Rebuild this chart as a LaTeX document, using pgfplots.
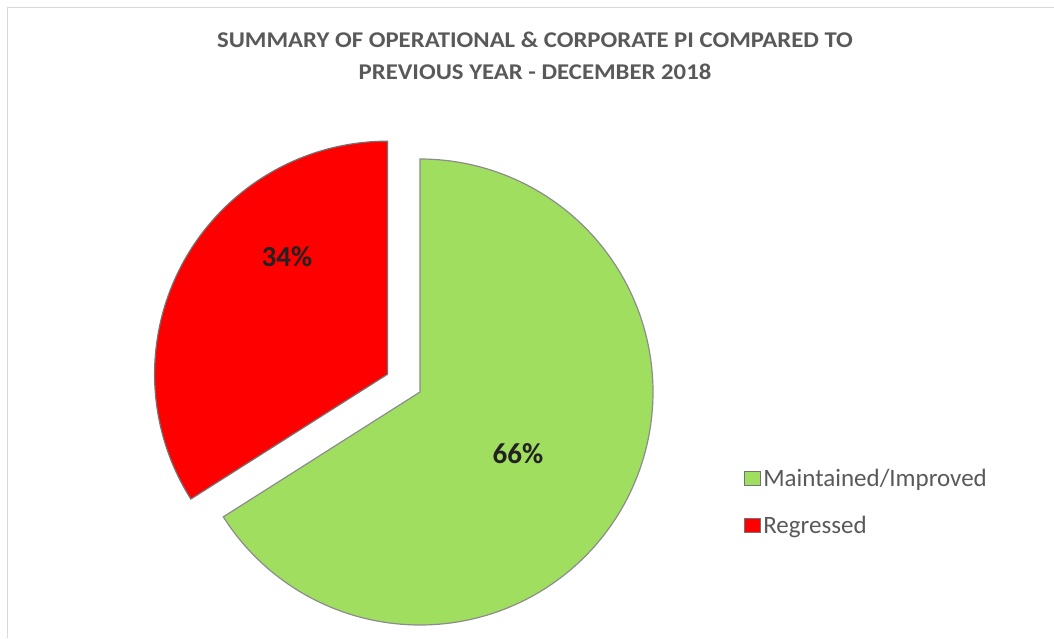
\documentclass[border=0pt]{standalone}
\usepackage{pgfplots}
\usepackage{pgfplotstable}
\pgfplotsset{compat=1.18}
\usepackage{fontspec}
\setmainfont{Carlito}
\newfontfamily\titlefont[FakeStretch=1.1]{Carlito}
\definecolor{pgreen}{HTML}{A0DE60}
\definecolor{pred}{HTML}{FE0000}
\definecolor{titlegray}{HTML}{595959}
\definecolor{labdark}{HTML}{222222}
\pgfplotstableread{
label value
Maintained 66
Regressed 34
}\piedata
\begin{document}%
\begin{tikzpicture}
\pgfplotstablegetelem{0}{value}\of\piedata \let\vA\pgfplotsretval
\pgfplotstablegetelem{1}{value}\of\piedata \let\vB\pgfplotsretval
\pgfmathsetmacro{\aEnd}{90-3.6*\vA}
\pgfmathsetmacro{\bEnd}{90+3.6*\vB}
\pgfmathsetmacro{\bMid}{90+1.8*\vB}
\pgfmathsetmacro{\R}{233}
\pgfmathsetmacro{\cx}{420}
\pgfmathsetmacro{\cy}{246}
\pgfmathsetmacro{\rx}{\cx+37*cos(\bMid)}
\pgfmathsetmacro{\ry}{\cy+37*sin(\bMid)}
\begin{axis}[
  at={(0,0)}, anchor=south west,
  scale only axis, width=1054pt, height=638pt,
  xmin=0, xmax=1054, ymin=0, ymax=638,
  hide axis, clip=false,
  legend image code/.code={\draw[#1, draw=black!55, line width=0.6pt] (0pt,-7pt) rectangle (16pt,7pt);},
  legend style={at={(axis cs:744,136)}, anchor=west, draw=none, fill=none,
    font=\fontsize{25}{28}\selectfont, text=titlegray, row sep=23pt,
    inner sep=0pt, nodes={inner sep=2.5pt, anchor=west}},
  legend cell align=left,
]
\addplot[fill=pgreen, draw=black!45, line width=1.2pt, domain=\aEnd:90, samples=200]
  ({\cx+\R*cos(x)},{\cy+\R*sin(x)}) -- (axis cs:\cx,\cy) -- cycle;
\addlegendentry{Maintained/Improved}
\addplot[fill=pred, draw=black!55, line width=1.2pt, domain=90:\bEnd, samples=200]
  ({\rx+\R*cos(x)},{\ry+\R*sin(x)}) -- (axis cs:\rx,\ry) -- cycle;
\addlegendentry{Regressed}
\node[font=\fontsize{29}{30}\selectfont\bfseries, text=labdark] at (axis cs:518,184) {66\%};
\node[font=\fontsize{29}{30}\selectfont\bfseries, text=labdark] at (axis cs:287,381) {34\%};
\node[font=\titlefont\fontsize{22.5}{32}\selectfont\bfseries, text=titlegray, align=center] at (axis cs:535,582)
  {SUMMARY OF OPERATIONAL \& CORPORATE PI COMPARED TO\\PREVIOUS YEAR - DECEMBER 2018};
\draw[black!15, line width=1pt] (axis cs:7,0) -- (axis cs:7,630) -- (axis cs:1054,630);
\end{axis}
\pgfresetboundingbox
\useasboundingbox (0,0) rectangle (1054pt,638pt);
\end{tikzpicture}%
\end{document}
